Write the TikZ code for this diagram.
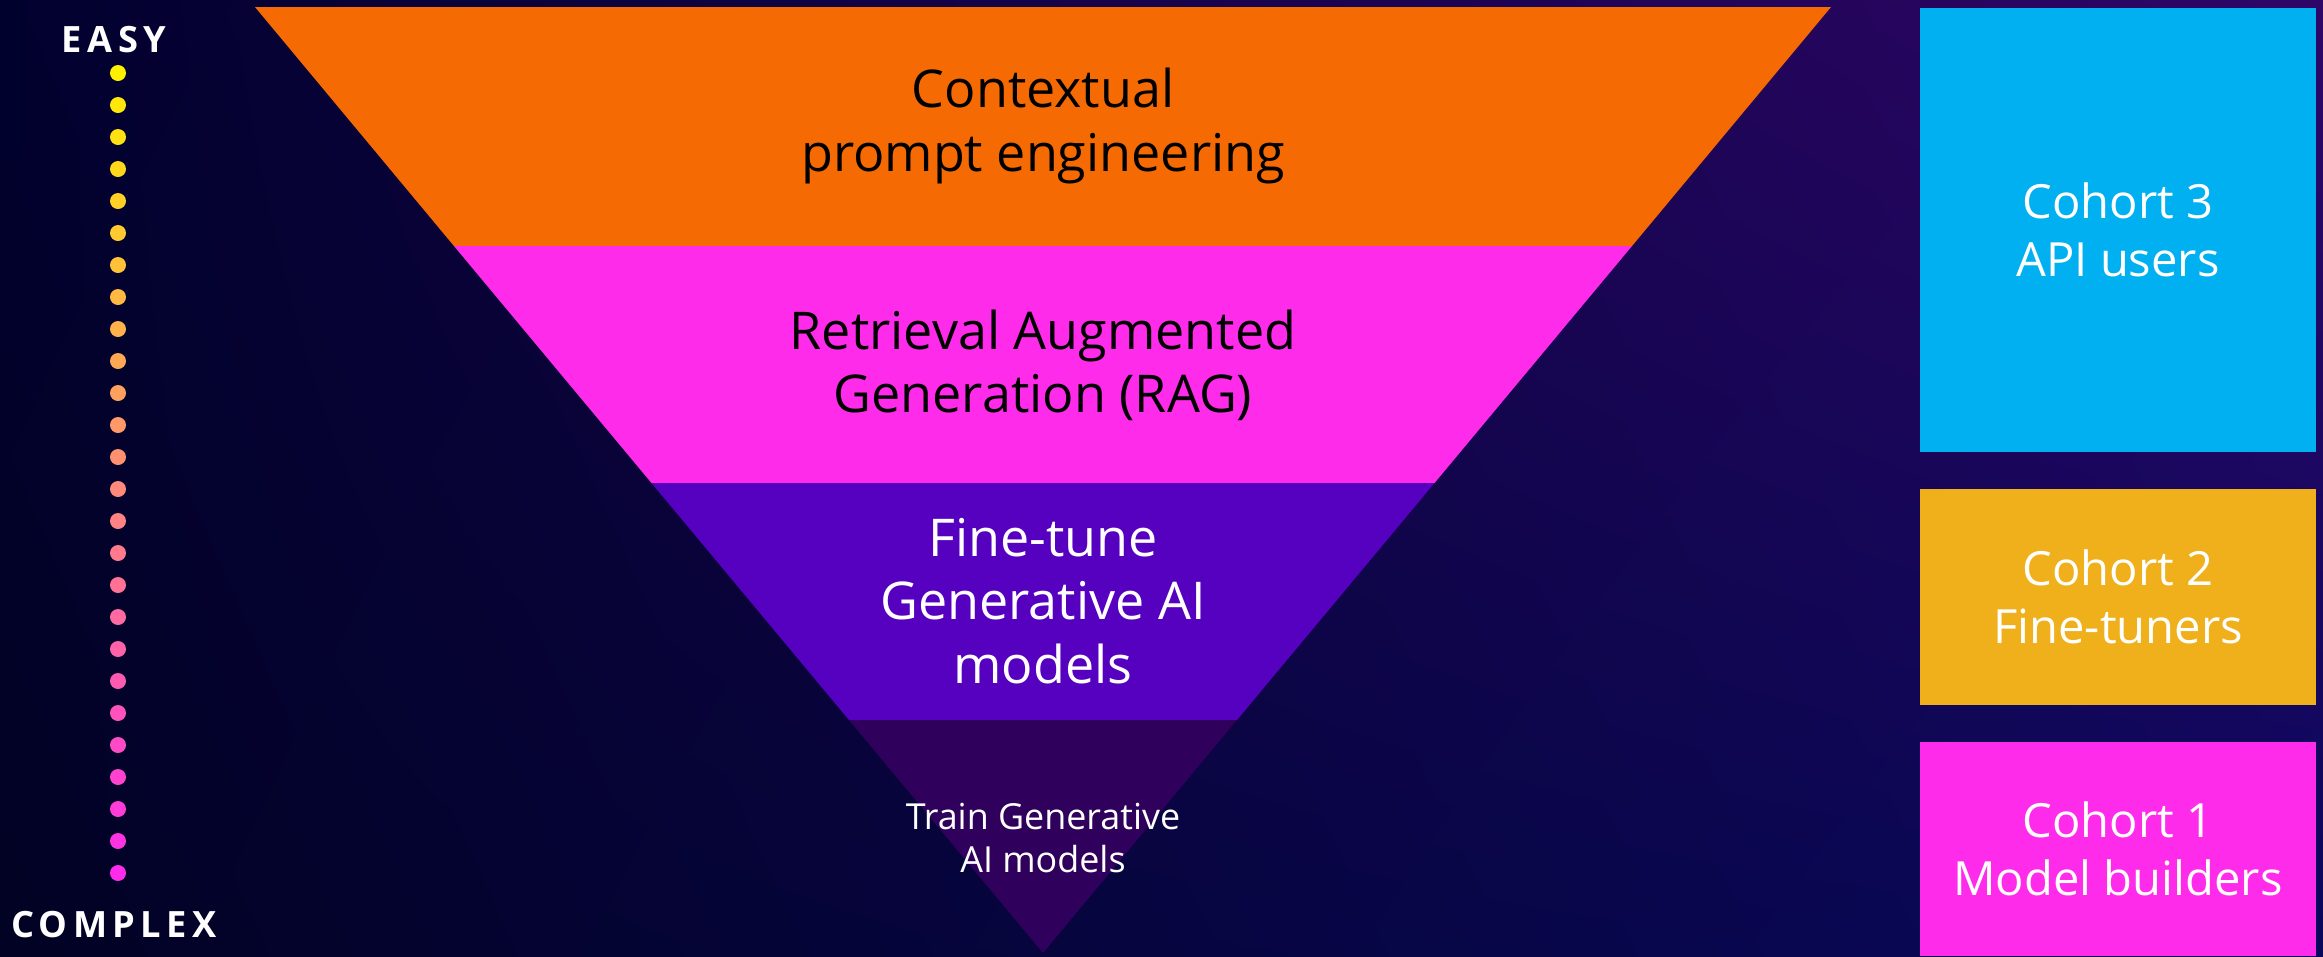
\documentclass[tikz,border=0pt]{standalone}
\usepackage{fontspec}
\setmainfont{Open Sans}
\usepackage{xcolor}
\usepackage{tikz}
\usetikzlibrary{positioning, shadings}
\definecolor{bgul}{RGB}{1,1,46}
\definecolor{bgur}{RGB}{46,6,104}
\definecolor{bgll}{RGB}{2,2,36}
\definecolor{bglr}{RGB}{10,8,92}
\definecolor{bandone}{RGB}{246,106,3}
\definecolor{bandtwo}{RGB}{255,43,235}
\definecolor{bandthree}{RGB}{86,0,192}
\definecolor{bandfour}{RGB}{47,0,92}
\definecolor{cohortthree}{RGB}{0,176,240}
\definecolor{cohorttwo}{RGB}{240,176,28}
\definecolor{cohortone}{RGB}{255,43,235}
\definecolor{dottop}{RGB}{255,240,0}
\definecolor{dotbottom}{RGB}{255,43,235}
\tikzset{
band label/.style = {align=center, inner sep=0pt, font=\fontsize{14.8}{18}\selectfont},
small label/.style = {align=center, inner sep=0pt, font=\fontsize{10.2}{12.2}\selectfont},
cohort box/.style = {rectangle, draw=none, text=white, align=center, minimum width=3.96cm, font=\fontsize{13.4}{16.5}\selectfont},
scale label/.style = {text=white, inner sep=0pt, font=\bfseries\fontsize{10.3}{12}\selectfont\addfontfeatures{LetterSpace=15}},
}

\begin{document}
\begin{tikzpicture}[x=0.01cm, y=-0.01cm]
    % background
    \shade[upper left=bgul, upper right=bgur, lower left=bgll, lower right=bglr] (0,0) rectangle (2323,956);
    \useasboundingbox (0,0) rectangle (2323,956);
    % funnel bands
    \fill[bandone] (255,7) -- (1831,7) -- (1632,246) -- (454,246) -- cycle;
    \fill[bandtwo] (454,246) -- (1632,246) -- (1434.5,483) -- (651.5,483) -- cycle;
    \fill[bandthree] (651.5,483) -- (1434.5,483) -- (1237,720) -- (849,720) -- cycle;
    \fill[bandfour] (849,720) -- (1237,720) -- (1043,953) -- cycle;
    \node[band label, text=black] (prompt) at (1043,126) {Contextual\\prompt engineering};
    \node[band label, text=black] (rag) at (1043,365) {Retrieval Augmented\\Generation (RAG)};
    \node[band label, text=white] (finetune) at (1043,601) {Fine-tune\\Generative AI\\models};
    \node[small label, text=white] (train) at (1043,838) {Train Generative\\AI models};
    % easy to complex scale
    \node[scale label] (easy) at (114,40) {EASY};
    \node[scale label] (complex) at (114,925) {COMPLEX};
    \foreach \i in {0,...,25} {
      \pgfmathsetmacro{\p}{100*\i/25}
      \fill[dotbottom!\p!dottop] (118,73+32*\i) circle (8);
    }
    % cohorts
    \node[cohort box, fill=cohortthree, minimum height=4.44cm] (cthree) at (2118,230) {Cohort 3\\API users};
    \node[cohort box, fill=cohorttwo, minimum height=2.16cm] (ctwo) at (2118,597) {Cohort 2\\Fine-tuners};
    \node[cohort box, fill=cohortone, minimum height=2.14cm] (cone) at (2118,849) {Cohort 1\\Model builders};
\end{tikzpicture}
\end{document}
